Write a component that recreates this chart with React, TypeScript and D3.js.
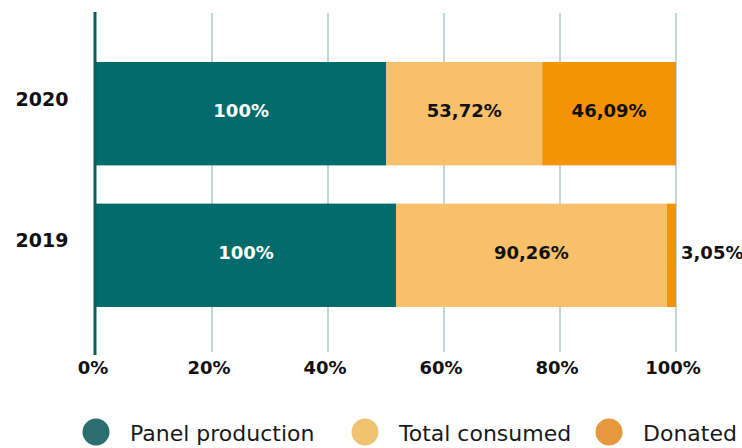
import React from "react";
import * as d3 from "d3";

const years = ["2020", "2019"];
const panelProduction = [100, 100];
const totalConsumed = [53.72, 90.26];
const donated = [46.09, 3.05];
const seriesNames = ["Panel production", "Total consumed", "Donated"];
const tickValues = [0, 0.2, 0.4, 0.6, 0.8, 1];
const tickLabels = ["0%", "20%", "40%", "60%", "80%", "100%"];

const W = 742;
const H = 448;
const barColors = ["#036b6c", "#f8c06b", "#f29406"];
const legendColors = ["#2d6e70", "#f2c273", "#e8983c"];
const keys = ["panel", "consumed", "donated"];

function fmt(v: number) {
  if (v === 100) return "100%";
  return v.toFixed(2).replace(".", ",") + "%";
}

export default function App() {
  const rows = years.map((y, i) => ({
    year: y,
    panel: panelProduction[i],
    consumed: totalConsumed[i],
    donated: donated[i],
  }));
  const stack = d3.stack<any>().keys(keys).offset(d3.stackOffsetExpand);
  const series = stack(rows);
  const raw = [panelProduction, totalConsumed, donated];

  const x = d3.scaleLinear().domain([0, 1]).range([96, 676]);
  const y = d3.scaleBand().domain(years).range([62, 307]).paddingInner(0.27).paddingOuter(0);
  const bw = y.bandwidth();

  const legendX = [96, 365, 609];
  const font = "'DejaVu Sans', sans-serif";

  return (
    <div style={{ position: "absolute", left: 0, top: 0 }}>
      <svg width={W} height={H} style={{ display: "block", background: "#fff" }}>
        {tickValues.map((t, i) =>
          i === 0 ? null : (
            <line key={"g" + i} x1={x(t)} x2={x(t)} y1={13} y2={352} stroke="#c3d6d7" strokeWidth={2} />
          )
        )}
        {series.map((s, si) =>
          s.map((d, di) => (
            <rect
              key={si + "-" + di}
              x={x(d[0])}
              y={y(years[di])!}
              width={x(d[1]) - x(d[0])}
              height={bw}
              fill={barColors[si]}
            />
          ))
        )}
        <line x1={95} x2={95} y1={12} y2={355} stroke="#0a5f60" strokeWidth={3} />
        {series.map((s, si) =>
          s.map((d, di) => {
            const v = raw[si][di];
            const w = x(d[1]) - x(d[0]);
            const inside = w > 60;
            const cx = inside ? (x(d[0]) + x(d[1])) / 2 : x(d[1]) + 5;
            const cy = y(years[di])! + bw / 2 - 3;
            return (
              <text
                key={"l" + si + "-" + di}
                x={cx}
                y={cy}
                dy="0.36em"
                textAnchor={inside ? "middle" : "start"}
                fontFamily={font}
                fontWeight="bold"
                fontSize={18}
                fill={si === 0 ? "#ffffff" : "#111"}
              >
                {fmt(v)}
              </text>
            );
          })
        )}
        {years.map((yr) => (
          <text
            key={yr}
            x={42}
            y={y(yr)! + bw / 2 - 15}
            dy="0.36em"
            textAnchor="middle"
            fontFamily={font}
            fontWeight="bold"
            fontSize={19}
            fill="#111"
          >
            {yr}
          </text>
        ))}
        {tickValues.map((t, i) => (
          <text
            key={"t" + i}
            x={x(t) - 3}
            y={374}
            textAnchor="middle"
            fontFamily={font}
            fontWeight="bold"
            fontSize={18}
            fill="#111"
          >
            {tickLabels[i]}
          </text>
        ))}
        {seriesNames.map((n, i) => (
          <g key={n}>
            <circle cx={legendX[i]} cy={432} r={13.5} fill={legendColors[i]} />
            <text
              x={legendX[i] + 34}
              y={433}
              dy="0.36em"
              fontFamily={font}
              fontSize={22}
              fill="#1a1a1a"
            >
              {n}
            </text>
          </g>
        ))}
      </svg>
    </div>
  );
}
